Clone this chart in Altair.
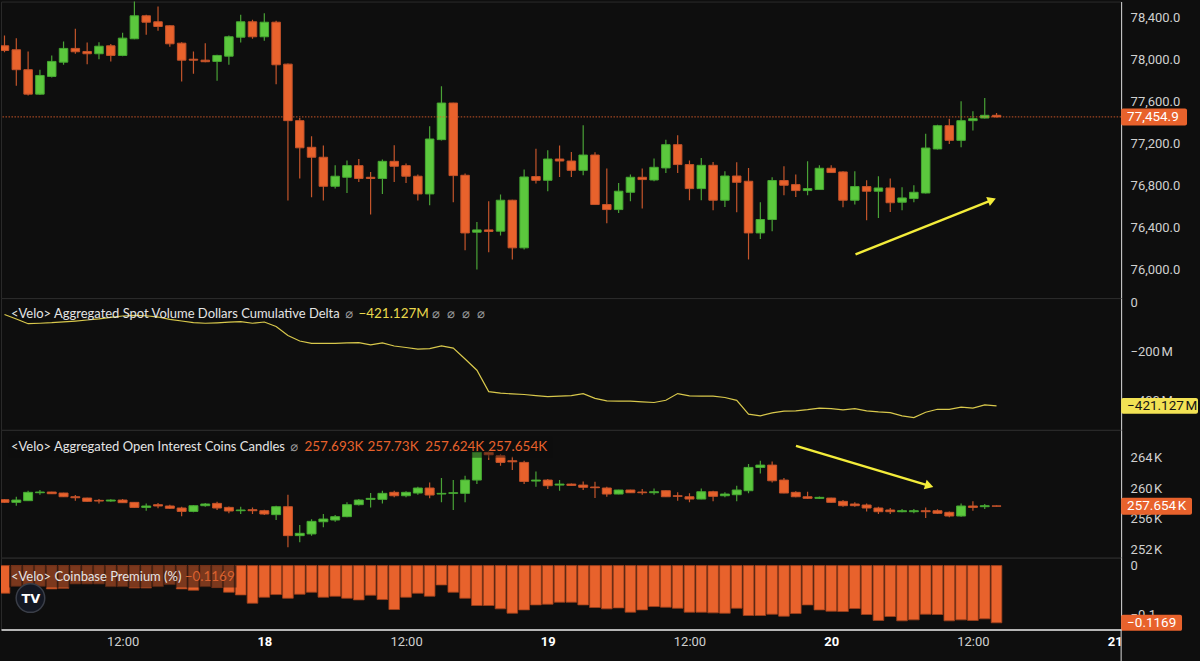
import altair as alt
import pandas as pd

# ---------------- data (hourly bars, index 0 = 17th 02:00) ----------------
HOURS = list(range(85))

PRICE_OPEN = [
    78133, 78095, 77905, 77672, 77841, 77977, 78108, 78079, 78057, 78133,
    78041, 78200, 78419, 78362, 78324, 78158, 78005, 77996, 77984, 78034,
    78215, 78362, 78219, 78358, 77958, 77419, 77165, 77070, 76793, 76879,
    76990, 76879, 76867, 77031, 76990, 76889, 76720, 77238, 77587, 76898,
    76355, 76377, 76365, 76660, 76206, 76886, 76850, 77053, 77034, 76945,
    77091, 76619, 76571, 76736, 76879, 76853, 76968, 77190, 77000, 76771,
    76993, 76660, 76891, 76841, 76348, 76476, 76848, 76809, 76752, 76762,
    76965, 76930, 76660, 76790, 76746, 76777, 76641, 76676, 76729, 77149,
    77371, 77231, 77419, 77444, 77470]
PRICE_HIGH = [
    78231, 78206, 78079, 77905, 78041, 78174, 78295, 78165, 78168, 78149,
    78257, 78570, 78428, 78507, 78328, 78168, 78079, 78158, 78048, 78231,
    78428, 78381, 78444, 78371, 77965, 77444, 77270, 77181, 76993, 77038,
    77053, 76930, 77048, 77184, 77010, 76905, 77365, 77746, 77590, 76914,
    76453, 76650, 76714, 76665, 76952, 77152, 77136, 77181, 77120, 77374,
    77117, 76962, 76825, 76905, 76962, 77057, 77238, 77279, 77038, 77063,
    77025, 76936, 77022, 76968, 76641, 76879, 76984, 76905, 77031, 76993,
    76993, 76936, 76936, 76850, 76888, 76867, 76784, 76803, 77295, 77381,
    77438, 77603, 77508, 77634, 77491]
PRICE_LOW = [
    78072, 77752, 77660, 77665, 77831, 77952, 78057, 77958, 78005, 77984,
    78034, 78195, 78238, 78276, 78124, 77793, 77867, 77977, 77800, 77952,
    78165, 78200, 78181, 77767, 76657, 76867, 76688, 76657, 76771, 76729,
    76834, 76524, 76720, 76834, 76825, 76657, 76612, 77229, 76641, 76184,
    76000, 76165, 76324, 76095, 76190, 76819, 76746, 76882, 76882, 76898,
    76615, 76441, 76539, 76650, 76581, 76841, 76920, 76920, 76660, 76660,
    76565, 76596, 76546, 76095, 76291, 76365, 76707, 76691, 76707, 76760,
    76920, 76593, 76619, 76470, 76491, 76548, 76565, 76641, 76725, 77145,
    77196, 77165, 77324, 77440, 77450]
PRICE_CLOSE = [
    78088, 77905, 77672, 77850, 77984, 78108, 78076, 78057, 78129, 78041,
    78206, 78419, 78358, 78317, 78152, 77996, 77996, 77981, 78041, 78219,
    78362, 78219, 78358, 77952, 77419, 77160, 77070, 76793, 76889, 76990,
    76867, 76867, 77031, 76984, 76889, 76720, 77244, 77587, 76895, 76348,
    76377, 76362, 76660, 76206, 76882, 76850, 77053, 77034, 76945, 77091,
    76619, 76571, 76746, 76879, 76857, 76974, 77190, 77000, 76771, 76993,
    76660, 76891, 76831, 76348, 76476, 76848, 76803, 76752, 76771, 76965,
    76924, 76660, 76790, 76746, 76777, 76636, 76682, 76736, 77158, 77371,
    77231, 77419, 77438, 77470, 77454.9]

CVD_M = [
    -50.6, -68.9, -87.9, -85.9, -83.8, -80.2, -77.0, -72.9, -68.0, -62.0,
    -56.7, -54.3, -55.5, -60.8, -70.0, -77.0, -83.8, -85.9, -84.2, -81.8,
    -79.8, -85.9, -81.0, -99.2, -135.7, -158.0, -167.3, -168.0, -167.3, -166.0,
    -164.8, -174.0, -165.6, -178.2, -184.3, -191.2, -188.7, -178.2, -187.1, -230.9,
    -276.6, -363.3, -369.8, -372.6, -375.0, -379.5, -383.5, -381.9, -379.9, -371.8,
    -390.8, -401.0, -402.2, -402.2, -405.0, -407.4, -398.5, -371.4, -380.7, -381.5,
    -381.9, -387.2, -398.9, -454.8, -461.7, -449.6, -442.3, -441.5, -436.6, -430.5,
    -432.1, -437.4, -432.5, -441.5, -445.5, -448.3, -461.7, -469.0, -447.1, -435.0,
    -435.4, -426.0, -430.5, -417.2, -421.127]

OI_OPEN = [
    258.50, 258.15, 258.37, 259.40, 259.49, 259.36, 258.88, 258.71, 258.41, 258.32,
    258.45, 258.15, 257.50, 257.85, 257.68, 257.42, 256.98, 257.72, 258.02, 257.50,
    257.07, 257.20, 257.07, 256.56, 257.59, 253.84, 254.06, 255.64, 255.86, 256.30,
    257.85, 258.54, 258.54, 259.45, 259.01, 259.36, 260.01, 259.23, 259.32, 259.32,
    261.04, 264.62, 264.19, 263.54, 263.33, 260.91, 261.04, 260.39, 260.52, 260.39,
    260.14, 260.01, 259.23, 259.75, 259.49, 259.40, 259.66, 259.01, 258.88, 258.58,
    259.53, 259.01, 259.14, 259.66, 262.68, 262.98, 261.04, 259.45, 258.88, 258.67,
    258.71, 258.28, 257.94, 257.81, 257.42, 257.16, 256.94, 256.94, 257.07, 257.07,
    256.86, 256.38, 257.68, 257.59, 257.693]
OI_HIGH = [
    258.58, 258.88, 259.66, 259.75, 259.53, 259.40, 259.10, 258.75, 258.58, 258.54,
    258.58, 258.20, 258.02, 258.07, 257.85, 257.59, 257.81, 258.07, 258.24, 257.63,
    257.59, 257.50, 257.20, 257.72, 259.14, 255.22, 255.95, 256.64, 256.51, 258.15,
    258.58, 259.36, 259.66, 259.66, 259.58, 260.18, 260.74, 261.30, 261.04, 261.60,
    264.70, 264.75, 264.40, 264.06, 263.54, 262.16, 261.17, 261.04, 260.60, 260.87,
    260.83, 260.18, 259.80, 259.79, 259.88, 259.96, 259.70, 259.45, 259.32, 259.96,
    259.66, 259.45, 260.31, 263.11, 263.54, 263.46, 261.30, 259.58, 259.53, 258.90,
    258.75, 258.45, 258.15, 258.02, 257.59, 257.42, 257.29, 257.29, 257.50, 257.25,
    256.98, 258.02, 258.28, 257.94, 257.73]
OI_LOW = [
    258.07, 257.72, 258.37, 259.14, 259.23, 258.84, 258.37, 258.24, 258.02, 258.24,
    258.07, 257.46, 257.07, 257.38, 257.29, 256.34, 256.86, 257.59, 257.16, 256.73,
    256.64, 256.64, 256.51, 255.86, 252.33, 252.98, 253.84, 254.92, 255.64, 256.21,
    257.76, 257.50, 258.02, 258.80, 258.80, 259.14, 258.67, 258.15, 257.16, 258.15,
    260.52, 263.63, 262.89, 262.33, 260.52, 260.18, 259.88, 259.66, 260.30, 259.75,
    258.71, 258.88, 259.20, 259.36, 259.14, 259.14, 258.84, 258.37, 258.15, 258.55,
    258.28, 258.80, 258.28, 259.32, 261.90, 260.74, 259.32, 258.80, 258.58, 258.60,
    258.11, 257.59, 257.59, 256.98, 256.64, 256.64, 256.86, 256.73, 256.12, 256.64,
    256.21, 256.30, 257.07, 257.29, 257.624]
OI_CLOSE = [
    258.15, 258.45, 259.45, 259.49, 259.27, 258.88, 258.75, 258.28, 258.32, 258.45,
    258.11, 257.50, 257.68, 257.68, 257.38, 256.98, 257.72, 257.94, 257.42, 257.03,
    257.16, 257.07, 256.64, 257.59, 253.84, 254.14, 255.69, 255.99, 256.30, 257.85,
    258.45, 258.67, 259.32, 259.01, 259.45, 260.01, 259.10, 259.32, 259.40, 261.04,
    264.62, 264.32, 263.33, 263.41, 260.87, 261.04, 260.31, 260.52, 260.35, 260.10,
    260.05, 259.23, 259.75, 259.40, 259.40, 259.53, 258.88, 258.93, 258.58, 259.53,
    258.93, 259.23, 259.75, 262.68, 262.98, 260.95, 259.36, 258.88, 258.67, 258.80,
    258.15, 257.72, 257.72, 257.42, 256.94, 256.94, 257.07, 257.07, 256.94, 256.73,
    256.38, 257.68, 257.50, 257.72, 257.654]

PREMIUM = [
    -0.0565, -0.0422, -0.0422, -0.0422, -0.0476, -0.0463, -0.0374, -0.0374, -0.0374, -0.0429,
    -0.0429, -0.0456, -0.0456, -0.0429, -0.0388, -0.0476, -0.0503, -0.0429, -0.0449, -0.0544,
    -0.0599, -0.0769, -0.0646, -0.0592, -0.0667, -0.0585, -0.0544, -0.0646, -0.0626, -0.0667,
    -0.0701, -0.0605, -0.0694, -0.0898, -0.0646, -0.0565, -0.0626, -0.0395, -0.0544, -0.0667,
    -0.0816, -0.0816, -0.0884, -0.0973, -0.0905, -0.0803, -0.0789, -0.0748, -0.0748, -0.0803,
    -0.0857, -0.0884, -0.0864, -0.0952, -0.0905, -0.0837, -0.0850, -0.0871, -0.0952, -0.0952,
    -0.0966, -0.0973, -0.0871, -0.1020, -0.1020, -0.0993, -0.1034, -0.0980, -0.0803, -0.0905,
    -0.0932, -0.0939, -0.0878, -0.1000, -0.1122, -0.1041, -0.1129, -0.1109, -0.0993, -0.1000,
    -0.1129, -0.1109, -0.1122, -0.1088, -0.1169]

LAST_PRICE = 77454.9
LAST_CVD = -421.127
LAST_OI = 257.654
LAST_PREM = -0.1169
OI_TITLE_VALUES = ["257.693K", "257.73K", "257.624K", "257.654K"]

TIME_TICKS = [10, 22, 34, 46, 58, 70, 82, 94]
TIME_LABELS = ["12:00", "18", "12:00", "19", "12:00", "20", "12:00", "21"]
DAY_TICKS = [22, 46, 70, 94]
PRICE_TICKS = [76000, 76400, 76800, 77200, 77600, 78000, 78400]
CVD_TICKS = [0, -200, -400]
OI_TICKS = [252, 256, 260, 264]
PREM_TICKS = [0, -0.1]

ARROW_PRICE_K = [72.06, 83.5]
ARROW_PRICE_V = [76143, 76657]
ARROW_OI_K = [67.02, 78.19]
ARROW_OI_V = [265.48, 260.36]

# ---------------- styling ----------------
W = 1122
BG = "#0e0e0e"
GREEN, GREEN_S, GREEN_W = "#5bc83d", "#46a832", "#49a236"
ORANGE, ORANGE_S, ORANGE_W = "#e8622c", "#c4522a", "#c4552b"
YELLOW_LINE = "#d8c84c"
YELLOW_ARROW = "#f3ec3a"
AXIS_TXT = "#d0d0d0"
TITLE_TXT = "#e4e4e4"
GLYPH = "#9a9a9a"

df = pd.DataFrame({
    "k": HOURS, "open": PRICE_OPEN, "high": PRICE_HIGH, "low": PRICE_LOW,
    "close": PRICE_CLOSE, "cvd": CVD_M, "oi_o": OI_OPEN, "oi_h": OI_HIGH,
    "oi_l": OI_LOW, "oi_c": OI_CLOSE, "prem": PREMIUM,
})

xs = alt.Scale(domain=[-0.296, 94.55], nice=False, zero=False)
ys1 = alt.Scale(domain=[75727, 78555], nice=False, zero=False)
ys2 = alt.Scale(domain=[-518.4, 16.2], nice=False, zero=False)
ys3 = alt.Scale(domain=[250.99, 267.55], nice=False, zero=False)
ys4 = alt.Scale(domain=[-0.1306, 0.0163], nice=False, zero=False)


def y_axis(values, fmt=None, expr=None):
    kw = dict(orient="right", values=values, title=None, grid=False, ticks=False,
              labelPadding=9, labelColor=AXIS_TXT, labelFont="Roboto", labelFontSize=13,
              domainColor="#d8d8d8", domainWidth=1, minExtent=78, maxExtent=78,
              labelFlush=False, labelOverlap=False)
    if fmt:
        kw["format"] = fmt
    if expr:
        kw["labelExpr"] = expr
    return alt.Axis(**kw)


ax1 = y_axis(PRICE_TICKS, fmt=",.1f")
ax2 = y_axis(CVD_TICKS, expr="datum.value == 0 ? '0' : format(datum.value, 'd') + '\u202fM'")
ax3 = y_axis(OI_TICKS, expr="format(datum.value, 'd') + '\u202fK'")
ax4 = y_axis(PREM_TICKS, expr="datum.value == 0 ? '0' : format(datum.value, '.1f')")

day_test = "indexof([" + ",".join(str(v) for v in DAY_TICKS) + "], datum.value) >= 0"
time_expr = ("[" + ",".join("'" + s + "'" for s in TIME_LABELS) + "][indexof(["
             + ",".join(str(v) for v in TIME_TICKS) + "], datum.value)]")
time_axis = alt.Axis(
    orient="bottom", values=TIME_TICKS, labelExpr=time_expr, title=None, grid=False,
    ticks=False, domainColor="#e8e8e8", domainWidth=1.5, labelPadding=6,
    labelFont="Roboto", labelFontSize=13, labelFlush=False, labelOverlap=False,
    labelColor={"condition": {"test": day_test, "value": "#ffffff"}, "value": AXIS_TXT},
    labelFontWeight={"condition": {"test": day_test, "value": "bold"}, "value": "normal"},
)


def candles(o, h, l, c, ys, ax, half):
    up = getattr(alt.datum, c) >= getattr(alt.datum, o)
    wick = alt.Chart(df).mark_rule(strokeWidth=1.2, clip=True).encode(
        x=alt.X("k:Q", scale=xs, axis=None),
        y=alt.Y(f"{l}:Q", scale=ys, axis=ax), y2=f"{h}:Q",
        color=alt.condition(up, alt.value(GREEN_W), alt.value(ORANGE_W)))
    body = alt.Chart(df).transform_calculate(
        x0=f"datum.k - {half}", x1=f"datum.k + {half}"
    ).mark_rect(clip=True, strokeWidth=1).encode(
        x=alt.X("x0:Q", scale=xs, axis=None), x2="x1:Q",
        y=alt.Y(f"{o}:Q", scale=ys, axis=ax), y2=f"{c}:Q",
        fill=alt.condition(up, alt.value(GREEN), alt.value(ORANGE)),
        stroke=alt.condition(up, alt.value(GREEN_S), alt.value(ORANGE_S)))
    return [wick, body]


def tag(value, text, half, x2, fill, text_color, ys, ax):
    d = pd.DataFrame({"v": [value], "lab": [text]})
    rect = alt.Chart(d).transform_calculate(
        lo=f"datum.v - {half}", hi=f"datum.v + {half}"
    ).mark_rect(fill=fill, cornerRadius=2).encode(
        x=alt.value(W), x2=alt.value(x2),
        y=alt.Y("lo:Q", scale=ys, axis=ax), y2="hi:Q")
    txt = alt.Chart(d).mark_text(align="left", baseline="middle", font="Roboto",
                                 fontSize=13.5, color=text_color).encode(
        x=alt.value(W + 6), y=alt.Y("v:Q", scale=ys, axis=ax), text="lab:N")
    return [rect, txt]


def label(text, x, y, color, size=13, font="Lato", weight="normal"):
    return alt.Chart(pd.DataFrame({"t": [text]})).mark_text(
        align="left", baseline="middle", font=font, fontSize=size,
        fontWeight=weight, color=color).encode(
        x=alt.value(x), y=alt.value(y), text="t:N")


def box(x, x2, y, y2, opacity, fill=BG):
    return alt.Chart(pd.DataFrame({"a": [0]})).mark_rect(fill=fill, opacity=opacity).encode(
        x=alt.value(x), x2=alt.value(x2), y=alt.value(y), y2=alt.value(y2))


def arrow(ks, vs, ys, ax, angle):
    d = pd.DataFrame({"k": ks, "v": vs})
    line = alt.Chart(d).mark_line(color=YELLOW_ARROW, strokeWidth=2.4).encode(
        x=alt.X("k:Q", scale=xs, axis=None), y=alt.Y("v:Q", scale=ys, axis=ax), order="k:Q")
    head = alt.Chart(d.tail(1)).mark_point(shape="triangle", filled=True, size=95,
                                           angle=angle, color=YELLOW_ARROW, opacity=1).encode(
        x=alt.X("k:Q", scale=xs, axis=None), y=alt.Y("v:Q", scale=ys, axis=ax))
    return [line, head]


GLYPH_CHAR = "\u2300"

# ---------------- panel 1: price candles ----------------
last_line = alt.Chart(pd.DataFrame({"v": [LAST_PRICE]})).mark_rule(
    color=ORANGE, strokeDash=[1.5, 1.5], strokeWidth=1, opacity=0.85).encode(
    y=alt.Y("v:Q", scale=ys1, axis=ax1))
p1 = alt.layer(
    *candles("open", "high", "low", "close", ys1, ax1, 0.36),
    last_line,
    *arrow(ARROW_PRICE_K, ARROW_PRICE_V, ys1, ax1, 68),
    *tag(LAST_PRICE, f"{LAST_PRICE:,.1f}", 81, 1188, ORANGE, "#ffffff", ys1, ax1),
    box(W, 1200, 0, 297, 0),
).properties(width=W, height=297)

# ---------------- panel 2: cumulative delta ----------------
cvd_line = alt.Chart(df).mark_line(color=YELLOW_LINE, strokeWidth=1.2, clip=True).encode(
    x=alt.X("k:Q", scale=xs, axis=None), y=alt.Y("cvd:Q", scale=ys2, axis=ax2))
cvd_glyphs = [label(GLYPH_CHAR, gx, 16, GLYPH, size=13, font="DejaVu Sans")
              for gx in (345, 432, 447, 462, 477)]
p2 = alt.layer(
    cvd_line,
    label("<Velo> Aggregated Spot Volume Dollars Cumulative Delta", 10, 16, TITLE_TXT),
    label("\u2212421.127M", 358, 16, "#e9d84c", size=13.5),
    *cvd_glyphs,
    *tag(LAST_CVD, "\u2212421.127\u202fM", 32, 1199, "#f2e254", "#141414", ys2, ax2),
).properties(width=W, height=132)

# ---------------- panel 3: open interest candles ----------------
oi_value_labels = [label(t, vx, 17, ORANGE, size=13.5)
                   for t, vx in zip(OI_TITLE_VALUES, (304, 367, 425, 488))]
p3 = alt.layer(
    *candles("oi_o", "oi_h", "oi_l", "oi_c", ys3, ax3, 0.38),
    box(8, 552, 7, 28, 0.45),
    label("<Velo> Aggregated Open Interest Coins Candles", 10, 17, TITLE_TXT),
    label(GLYPH_CHAR, 290, 17, GLYPH, size=13, font="DejaVu Sans"),
    *oi_value_labels,
    *arrow(ARROW_OI_K, ARROW_OI_V, ys3, ax3, 107),
    *tag(LAST_OI, f"{LAST_OI:.3f}\u202fK", 1.1, 1193, ORANGE, "#ffffff", ys3, ax3),
).properties(width=W, height=128)

# ---------------- panel 4: coinbase premium ----------------
bars = alt.Chart(df).transform_calculate(
    x0="datum.k - 0.45", x1="datum.k + 0.45"
).mark_rect(fill=ORANGE, stroke="#9e401c", strokeWidth=0.8, clip=True).encode(
    x=alt.X("x0:Q", scale=xs, axis=time_axis), x2="x1:Q",
    y=alt.Y("prem:Q", scale=ys4, axis=ax4), y2=alt.datum(0))
logo = alt.Chart(pd.DataFrame({"a": [0]})).mark_point(
    shape="circle", filled=True, size=820, color="#131722", stroke="#3a3e48",
    strokeWidth=1.5, opacity=1).encode(x=alt.value(29.5), y=alt.value(40.5))
p4 = alt.layer(
    bars,
    box(8, 236, 8, 30, 0.5),
    label("<Velo> Coinbase Premium (%)", 10, 19, TITLE_TXT),
    label(f"\u2212{abs(LAST_PREM):.4f}", 184, 19, "#d9612f", size=13.5),
    logo,
    label("TV", 20.5, 41, "#ffffff", size=13, font="DejaVu Sans", weight="bold"),
    *tag(LAST_PREM, f"\u2212{abs(LAST_PREM):.4f}", 0.0165, 1183, ORANGE, "#ffffff", ys4, ax4),
    alt.Chart(pd.DataFrame({"a": [0]})).mark_rule(color="#d8d8d8", strokeWidth=1).encode(
        x=alt.value(W), y=alt.value(72), y2=alt.value(104)),
    box(0, 1200, 72, 104, 0),
).properties(width=W, height=72)

chart = alt.vconcat(p1, p2, p3, p4, spacing=0, bounds="flush").resolve_scale(
    x="independent", y="independent"
).properties(padding=0, background=BG).configure_view(stroke="#2a2a2a", strokeWidth=1)

chart.save("out.html", embed_options={"renderer": "svg", "actions": False})
